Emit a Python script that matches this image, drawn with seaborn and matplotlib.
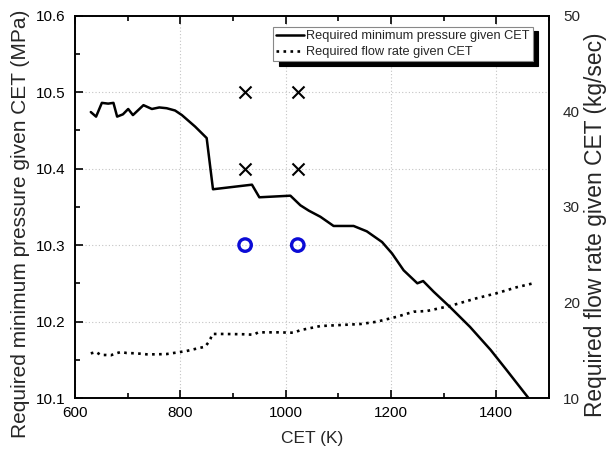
import numpy as np
import pandas as pd
import matplotlib
matplotlib.use("Agg")
import matplotlib.pyplot as plt
from matplotlib.ticker import MultipleLocator, FormatStrFormatter
import seaborn as sns

# ---------------- data ----------------
cet_p = [630, 640, 651, 663, 673, 680, 691, 701, 710, 730, 746, 760, 774, 790, 803,
         828, 850, 862, 936, 950, 1009, 1028, 1044, 1066, 1091, 1129, 1154, 1183,
         1202, 1224, 1250, 1261, 1281, 1312, 1350, 1389, 1419, 1461]
pressure = [10.474, 10.468, 10.486, 10.485, 10.486, 10.468, 10.471, 10.478, 10.470,
            10.483, 10.478, 10.480, 10.479, 10.476, 10.470, 10.455, 10.440, 10.373,
            10.379, 10.3625, 10.3646, 10.352, 10.345, 10.337, 10.325, 10.325, 10.318,
            10.304, 10.289, 10.267, 10.250, 10.253, 10.239, 10.219, 10.193, 10.163,
            10.137, 10.100]

cet_f = [630, 640, 649, 659, 668, 678, 687, 698, 717, 736, 755, 774, 796, 812, 828,
         847, 853, 857, 861, 881, 920, 939, 948, 986, 1015, 1028, 1066, 1142, 1173,
         1211, 1243, 1268, 1312, 1362, 1400, 1438, 1470]
flow = [14.67, 14.81, 14.50, 14.50, 14.47, 14.67, 14.81, 14.71, 14.67, 14.57, 14.57,
        14.60, 14.78, 14.92, 15.13, 15.37, 15.79, 16.17, 16.70, 16.70, 16.67, 16.62,
        16.87, 16.87, 16.83, 17.10, 17.53, 17.74, 17.98, 18.50, 19.03, 19.10, 19.63,
        20.43, 20.95, 21.58, 22.00]

x_cet = [923, 1023, 923, 1023]
x_pres = [10.5, 10.5, 10.4, 10.4]
o_cet = [923, 1023]
o_pres = [10.3, 10.3]

x_ticks = [600, 800, 1000, 1200, 1400]
y_ticks = [10.1, 10.2, 10.3, 10.4, 10.5, 10.6]
y2_ticks = [10, 20, 30, 40, 50]

label_p = "Required minimum pressure given CET"
label_f = "Required flow rate given CET"

# ---------------- style ----------------
sns.set_style("ticks")
plt.rcParams["font.family"] = ["Liberation Sans", "DejaVu Sans"]

fig = plt.figure(figsize=(6.06, 4.57), dpi=100)
W, H = 606, 457
ax = fig.add_axes([75 / W, 59 / H, 474 / W, 382.3 / H])

grid_kw = dict(color="#c4c4c4", linestyle=(0, (1, 2)), linewidth=0.8)
ax.set_axisbelow(True)
ax.grid(True, which="major", **grid_kw)

df_p = pd.DataFrame({"CET": cet_p, "P": pressure})
sns.lineplot(data=df_p, x="CET", y="P", ax=ax, color="black", linewidth=1.8,
             estimator=None, label=label_p, legend=False)

df_x = pd.DataFrame({"CET": x_cet, "P": x_pres})
sns.scatterplot(data=df_x, x="CET", y="P", ax=ax, marker="x", s=75, color="black",
                linewidth=1.5, legend=False, zorder=4)
df_o = pd.DataFrame({"CET": o_cet, "P": o_pres})
sns.scatterplot(data=df_o, x="CET", y="P", ax=ax, marker="o", s=80,
                facecolor="none", edgecolor="#0b0bd6", linewidth=2.4,
                legend=False, zorder=4)

ax.set_xlim(600, 1500)
ax.set_ylim(10.1, 10.6)
ax.set_xticks(x_ticks)
ax.set_yticks(y_ticks)
ax.xaxis.set_minor_locator(MultipleLocator(100))
ax.yaxis.set_minor_locator(MultipleLocator(0.05))
ax.yaxis.set_major_formatter(FormatStrFormatter("%.1f"))
ax.tick_params(which="both", direction="in", top=True, right=True,
               labelsize=11, colors="black", width=1.2)
ax.tick_params(which="major", length=6)
ax.tick_params(which="minor", length=3.5)
ax.tick_params(axis="y", pad=7)
ax.tick_params(axis="x", pad=6)
for s in ax.spines.values():
    s.set_linewidth(1.4)
    s.set_color("black")
ax.set_xlabel("CET (K)", fontsize=12.5, labelpad=8)
ax.set_ylabel("Required minimum pressure given CET (MPa)", fontsize=15.0)
ax.yaxis.set_label_coords(-0.095, 0.455)

ax2 = ax.twinx()
df_f = pd.DataFrame({"CET": cet_f, "F": flow})
sns.lineplot(data=df_f, x="CET", y="F", ax=ax2, color="black", linewidth=1.9,
             linestyle=":", estimator=None, label=label_f, legend=False)
ax2.set_ylim(10, 50)
ax2.set_yticks(y2_ticks)
ax2.tick_params(axis="y", length=0, pad=10, labelsize=11)
for s in ax2.spines.values():
    s.set_visible(False)
ax2.set_ylabel("Required flow rate given CET (kg/sec)", fontsize=16.4)
ax2.yaxis.set_label_coords(1.074, 0.452)
ax2.set_xlim(600, 1500)

handles = ax.get_lines()[:1] + [l for l in ax2.get_lines() if l.get_label() == label_f]
leg = ax2.legend(handles=handles, labels=[label_p, label_f], loc="upper right",
                 bbox_to_anchor=(0.966, 0.970), borderaxespad=0, fontsize=9.2,
                 frameon=True, fancybox=False, framealpha=1, edgecolor="#888888",
                 handlelength=2.2, handletextpad=0.15, borderpad=0.25,
                 labelspacing=0.3,
                 shadow={"ox": 4, "oy": -3, "color": "black", "alpha": 1})
leg.get_frame().set_linewidth(0.8)

fig.savefig("out.png", dpi=100)
